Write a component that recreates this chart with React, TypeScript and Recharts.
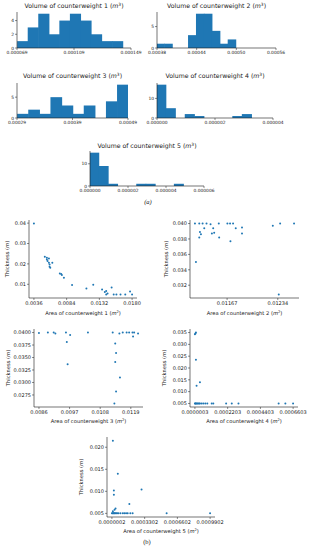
import React from 'react';
import { BarChart, Bar, XAxis, YAxis, ScatterChart, Scatter } from 'recharts';

const BLUE = '#1f77b4';
const INK = '#1a1a1a';
const FONT = "'DejaVu Sans', sans-serif";

// ---------------- (a) histograms ----------------
const hist1Counts = [1, 3, 5, 2, 4, 5, 4, 2, 1, 1];
const hist1BinStart = 0.000069;
const hist1BinWidth = 0.0000074;
const hist1XTicks = [0.000069, 0.000109, 0.000149];
const hist1YTicks = [0, 2, 4];

const hist2Counts = [1, 1, 0, 0, 3, 8, 8, 4, 1, 2];
const hist2BinStart = 0.00038;
const hist2BinWidth = 0.000012;
const hist2XTicks = [0.00038, 0.00044, 0.0005, 0.00056];
const hist2YTicks = [0, 5];

const hist3Counts = [1, 2, 1, 5, 3, 1, 3, 0, 4, 8];
const hist3BinStart = 0.00029;
const hist3BinWidth = 0.00002;
const hist3XTicks = [0.00029, 0.00039, 0.00049];
const hist3YTicks = [0, 5];

const hist4Counts = [17, 5, 0, 2, 1, 0, 0, 0, 1, 2];
const hist4BinStart = 0;
const hist4BinWidth = 0.000000328;
const hist4XTicks = [0, 0.000002, 0.000004];
const hist4YTicks = [0, 10];

const hist5Counts = [15, 9, 1, 0, 0, 1, 1, 0, 0, 1];
const hist5BinStart = 0;
const hist5BinWidth = 0.000000495;
const hist5XTicks = [0, 0.000002, 0.000004, 0.000006];
const hist5YTicks = [0, 10];

// ---------------- (b) scatter plots ----------------
const cw1Area = [0.0036, 0.0052, 0.0055, 0.0058, 0.0055, 0.0056, 0.0058, 0.0059, 0.0059, 0.006, 0.0063, 0.0074, 0.0076, 0.0077, 0.008, 0.0092, 0.0113, 0.0123, 0.0136, 0.014, 0.0142, 0.0144, 0.0142, 0.015, 0.0153, 0.0157, 0.0163, 0.017, 0.0177, 0.018];
const cw1Thick = [0.0398, 0.0235, 0.023, 0.0227, 0.0222, 0.0214, 0.0205, 0.0197, 0.0186, 0.0181, 0.0205, 0.0153, 0.015, 0.0145, 0.0132, 0.0097, 0.0079, 0.0098, 0.0074, 0.0062, 0.0067, 0.0055, 0.005, 0.0084, 0.005, 0.005, 0.005, 0.005, 0.0064, 0.005];
const cw1XTicks = [0.0036, 0.0084, 0.0132, 0.018];
const cw1YTicks = [0.01, 0.02, 0.03, 0.04];

const cw2Area = [0.011245, 0.011302, 0.011346, 0.011398, 0.011451, 0.01156, 0.011674, 0.011709, 0.011749, 0.012371, 0.012555, 0.012274, 0.011311, 0.011324, 0.011302, 0.011368, 0.011469, 0.011499, 0.011486, 0.011565, 0.011714, 0.011784, 0.011867, 0.011867, 0.011258, 0.012353];
const cw2Thick = [0.04, 0.04, 0.04, 0.04, 0.0399, 0.04, 0.04, 0.04, 0.04, 0.04, 0.04, 0.0397, 0.0389, 0.0386, 0.0382, 0.0394, 0.0387, 0.0388, 0.0394, 0.0382, 0.0377, 0.0394, 0.0395, 0.0387, 0.035, 0.0308];
const cw2XTicks = [0.01167, 0.01234];
const cw2YTicks = [0.032, 0.034, 0.036, 0.038, 0.04];

const cw3Area = [0.0086, 0.00892, 0.00913, 0.00919, 0.00957, 0.00972, 0.0096, 0.00963, 0.01036, 0.01125, 0.01134, 0.01137, 0.01134, 0.01151, 0.01137, 0.01131, 0.01149, 0.01161, 0.01175, 0.01184, 0.01196, 0.01202, 0.01198, 0.01216];
const cw3Thick = [0.0399, 0.04, 0.04, 0.0398, 0.04, 0.0395, 0.0381, 0.03365, 0.04, 0.04, 0.0378, 0.0359, 0.0341, 0.031, 0.0282, 0.0258, 0.0398, 0.04, 0.04, 0.04, 0.04, 0.04, 0.0392, 0.0398];
const cw3XTicks = [0.0086, 0.0097, 0.0108, 0.0119];
const cw3YTicks = [0.0275, 0.03, 0.0325, 0.035, 0.0375, 0.04];

const cw4Area = [0.0000003, 0.0000071, 0.000004, 0.0000071, 0.0000116, 0.0000341, 0.0000003, 0.000003, 0.000007, 0.0000116, 0.000017, 0.0000228, 0.000029, 0.0000341, 0.000045, 0.0000566, 0.00007, 0.0000836, 0.000113, 0.000124, 0.00021, 0.000248, 0.000293, 0.000563, 0.000608, 0.00066];
const cw4Thick = [0.0343, 0.035, 0.0346, 0.0235, 0.0125, 0.014, 0.005, 0.005, 0.005, 0.005, 0.005, 0.005, 0.005, 0.005, 0.005, 0.005, 0.005, 0.005, 0.005, 0.005, 0.005, 0.005, 0.005, 0.005, 0.005, 0.005];
const cw4XTicks = [0.0000003, 0.0002203, 0.0004403, 0.0006603];
const cw4YTicks = [0.005, 0.01, 0.015, 0.02, 0.025, 0.03, 0.035];

const cw5Area = [0.0000102, 0.00006, 0.0000201, 0.0000201, 0.000299, 0.000176, 0.0000102, 0.0000268, 0.0000368, 0.0000002, 0.000007, 0.0000135, 0.00002, 0.000027, 0.0000335, 0.0000435, 0.0000535, 0.0000665, 0.0000865, 0.00011, 0.000126, 0.000143, 0.000159, 0.000186, 0.000209, 0.000552, 0.00099];
const cw5Thick = [0.0215, 0.014, 0.0102, 0.0092, 0.0104, 0.0071, 0.0055, 0.0058, 0.0061, 0.005, 0.005, 0.005, 0.005, 0.005, 0.005, 0.005, 0.005, 0.005, 0.005, 0.005, 0.005, 0.005, 0.005, 0.005, 0.005, 0.005, 0.005];
const cw5XTicks = [0.0000002, 0.0003302, 0.0006602, 0.0009902];
const cw5YTicks = [0.005, 0.01, 0.015, 0.02];

type Box = { x: number; y: number; w: number; h: number };

const axisLine = { stroke: INK, strokeWidth: 0.6 };
const tickLine = { stroke: INK, strokeWidth: 0.5 };

function M3({ p }: { p: string }) {
  return (
    <span>
      (<i>m</i>
      <span style={{ fontSize: '0.7em', position: 'relative', top: '-0.45em' }}>{p}</span>)
    </span>
  );
}

function Histogram(props: {
  box: Box;
  counts: number[];
  binStart: number;
  binWidth: number;
  xTicks: number[];
  yTicks: number[];
  xDigits: number;
  n: number;
  titleY: number;
}) {
  const { box, counts, binStart, binWidth, xTicks, yTicks, xDigits, n, titleY } = props;
  const data = counts.map((c, i) => ({ center: binStart + (i + 0.5) * binWidth, count: c }));
  const xDomain = [xTicks[0], xTicks[xTicks.length - 1]];
  const yMax = Math.max(...counts) * 1.05;
  const padL = 16, padR = 18, padT = 2, padB = 12;
  const binPx = (box.w * binWidth) / (xDomain[1] - xDomain[0]);
  const shape = (p: any) => {
    if (!p.height || p.height <= 0) return <g />;
    const cx = p.x + p.width / 2;
    return <rect x={cx - binPx / 2 - 0.3} y={p.y} width={binPx + 0.6} height={p.height} fill={BLUE} />;
  };
  const tick = { fontSize: 4.4, fill: INK, fontFamily: FONT };
  return (
    <>
      <div
        style={{
          position: 'absolute',
          left: box.x + box.w / 2,
          top: titleY,
          transform: 'translate(-50%, -50%)',
          whiteSpace: 'nowrap',
          fontSize: 6.2,
          fontFamily: FONT,
          color: INK,
          lineHeight: 1,
        }}
      >
        Volume of counterweight {n} <M3 p="3" />
      </div>
      <div style={{ position: 'absolute', left: box.x - padL, top: box.y - padT }}>
        <BarChart
          width={box.w + padL + padR}
          height={box.h + padT + padB}
          data={data}
          margin={{ top: padT, right: padR, bottom: 0, left: 0 }}
          barCategoryGap={0}
          barGap={0}
        >
          <XAxis
            xAxisId="b"
            type="number"
            dataKey="center"
            domain={xDomain}
            allowDataOverflow
            ticks={xTicks}
            interval={0}
            height={padB}
            tick={tick}
            tickSize={2}
            tickMargin={1}
            axisLine={axisLine}
            tickLine={tickLine}
            tickFormatter={(v: number) => v.toFixed(xDigits)}
          />
          <XAxis
            xAxisId="t"
            orientation="top"
            type="number"
            domain={xDomain}
            allowDataOverflow
            height={0}
            tick={false}
            tickLine={false}
            axisLine={axisLine}
          />
          <YAxis
            yAxisId="l"
            type="number"
            domain={[0, yMax]}
            allowDataOverflow
            ticks={yTicks}
            interval={0}
            width={padL}
            tick={tick}
            tickSize={2}
            tickMargin={1}
            axisLine={axisLine}
            tickLine={tickLine}
          />
          <YAxis
            yAxisId="r"
            orientation="right"
            type="number"
            domain={[0, yMax]}
            allowDataOverflow
            width={0}
            tick={false}
            tickLine={false}
            axisLine={axisLine}
          />
          <Bar
            xAxisId="b"
            yAxisId="l"
            dataKey="count"
            fill={BLUE}
            barSize={binPx}
            shape={shape}
            isAnimationActive={false}
          />
        </BarChart>
      </div>
    </>
  );
}

function padDomain(arr: number[]) {
  const lo = Math.min(...arr);
  const hi = Math.max(...arr);
  const m = (hi - lo) * 0.05;
  return [lo - m, hi + m];
}

function ScatterPanel(props: {
  box: Box;
  xs: number[];
  ys: number[];
  xTicks: number[];
  yTicks: number[];
  xDigits: number;
  yDigits: number;
  n: number;
  yLabelX: number;
  xLabelY: number;
}) {
  const { box, xs, ys, xTicks, yTicks, xDigits, yDigits, n, yLabelX, xLabelY } = props;
  const data = xs.map((x, i) => ({ x, y: ys[i] }));
  const xDomain = padDomain(xs);
  const yDomain = padDomain(ys);
  const padL = 24, padR = 16, padT = 2, padB = 12;
  const tick = { fontSize: 5, fill: INK, fontFamily: FONT };
  const labelStyle: React.CSSProperties = {
    position: 'absolute',
    whiteSpace: 'nowrap',
    fontSize: 5.2,
    fontFamily: FONT,
    color: INK,
    lineHeight: 1,
  };
  return (
    <>
      <div
        style={{
          ...labelStyle,
          left: yLabelX,
          top: box.y + box.h / 2,
          transform: 'translate(-50%, -50%) rotate(-90deg)',
        }}
      >
        Thickness (<i>m</i>)
      </div>
      <div
        style={{
          ...labelStyle,
          left: box.x + box.w / 2,
          top: xLabelY,
          transform: 'translate(-50%, -50%)',
        }}
      >
        Area of counterweight {n} <M3 p="2" />
      </div>
      <div style={{ position: 'absolute', left: box.x - padL, top: box.y - padT }}>
        <ScatterChart
          width={box.w + padL + padR}
          height={box.h + padT + padB}
          margin={{ top: padT, right: padR, bottom: 0, left: 0 }}
        >
          <XAxis
            xAxisId="b"
            type="number"
            dataKey="x"
            domain={xDomain}
            allowDataOverflow
            ticks={xTicks}
            interval={0}
            height={padB}
            tick={tick}
            tickSize={2}
            tickMargin={1.5}
            axisLine={axisLine}
            tickLine={tickLine}
            tickFormatter={(v: number) => v.toFixed(xDigits)}
          />
          <XAxis
            xAxisId="t"
            orientation="top"
            type="number"
            domain={xDomain}
            allowDataOverflow
            height={0}
            tick={false}
            tickLine={false}
            axisLine={axisLine}
          />
          <YAxis
            yAxisId="l"
            type="number"
            dataKey="y"
            domain={yDomain}
            allowDataOverflow
            ticks={yTicks}
            interval={0}
            width={padL}
            tick={tick}
            tickSize={2}
            tickMargin={1}
            axisLine={axisLine}
            tickLine={tickLine}
            tickFormatter={(v: number) => v.toFixed(yDigits)}
          />
          <YAxis
            yAxisId="r"
            orientation="right"
            type="number"
            domain={yDomain}
            allowDataOverflow
            width={0}
            tick={false}
            tickLine={false}
            axisLine={axisLine}
          />
          <Scatter
            xAxisId="b"
            yAxisId="l"
            data={data}
            fill={BLUE}
            isAnimationActive={false}
            shape={(p: any) => <circle cx={p.cx} cy={p.cy} r={1} fill={BLUE} />}
          />
        </ScatterChart>
      </div>
    </>
  );
}

export default function App() {
  return (
    <div
      style={{
        position: 'absolute',
        left: 0,
        top: 0,
        width: 313,
        height: 550,
        background: '#fff',
        overflow: 'hidden',
      }}
    >
      <Histogram box={{ x: 17, y: 12, w: 114, h: 36 }} counts={hist1Counts} binStart={hist1BinStart} binWidth={hist1BinWidth} xTicks={hist1XTicks} yTicks={hist1YTicks} xDigits={6} n={1} titleY={6} />
      <Histogram box={{ x: 157, y: 12, w: 119, h: 36 }} counts={hist2Counts} binStart={hist2BinStart} binWidth={hist2BinWidth} xTicks={hist2XTicks} yTicks={hist2YTicks} xDigits={5} n={2} titleY={6} />
      <Histogram box={{ x: 17, y: 83, w: 111, h: 35 }} counts={hist3Counts} binStart={hist3BinStart} binWidth={hist3BinWidth} xTicks={hist3XTicks} yTicks={hist3YTicks} xDigits={5} n={3} titleY={76} />
      <Histogram box={{ x: 157, y: 83, w: 116, h: 35 }} counts={hist4Counts} binStart={hist4BinStart} binWidth={hist4BinWidth} xTicks={hist4XTicks} yTicks={hist4YTicks} xDigits={6} n={4} titleY={76} />
      <Histogram box={{ x: 90, y: 151, w: 114, h: 35 }} counts={hist5Counts} binStart={hist5BinStart} binWidth={hist5BinWidth} xTicks={hist5XTicks} yTicks={hist5YTicks} xDigits={6} n={5} titleY={145.5} />
      <div style={{ position: 'absolute', left: 148, top: 202, transform: 'translate(-50%, -50%)', fontFamily: "'Liberation Serif', serif", fontStyle: 'italic', fontSize: 6.5, color: INK, lineHeight: 1 }}>(a)</div>

      <ScatterPanel box={{ x: 29, y: 220, w: 108, h: 78 }} xs={cw1Area} ys={cw1Thick} xTicks={cw1XTicks} yTicks={cw1YTicks} xDigits={4} yDigits={2} n={1} yLabelX={8} xLabelY={314} />
      <ScatterPanel box={{ x: 190, y: 220, w: 109, h: 78 }} xs={cw2Area} ys={cw2Thick} xTicks={cw2XTicks} yTicks={cw2YTicks} xDigits={5} yDigits={3} n={2} yLabelX={166.5} xLabelY={313.5} />
      <ScatterPanel box={{ x: 34, y: 329, w: 109, h: 78 }} xs={cw3Area} ys={cw3Thick} xTicks={cw3XTicks} yTicks={cw3YTicks} xDigits={4} yDigits={4} n={3} yLabelX={9} xLabelY={421.7} />
      <ScatterPanel box={{ x: 190, y: 329, w: 108, h: 78 }} xs={cw4Area} ys={cw4Thick} xTicks={cw4XTicks} yTicks={cw4YTicks} xDigits={7} yDigits={3} n={4} yLabelX={165} xLabelY={422} />
      <ScatterPanel box={{ x: 107, y: 437, w: 108, h: 80 }} xs={cw5Area} ys={cw5Thick} xTicks={cw5XTicks} yTicks={cw5YTicks} xDigits={7} yDigits={3} n={5} yLabelX={81.7} xLabelY={531.7} />
      <div style={{ position: 'absolute', left: 147, top: 542, transform: 'translate(-50%, -50%)', fontFamily: "'Liberation Serif', serif", fontSize: 6.5, color: INK, lineHeight: 1 }}>(b)</div>
    </div>
  );
}
